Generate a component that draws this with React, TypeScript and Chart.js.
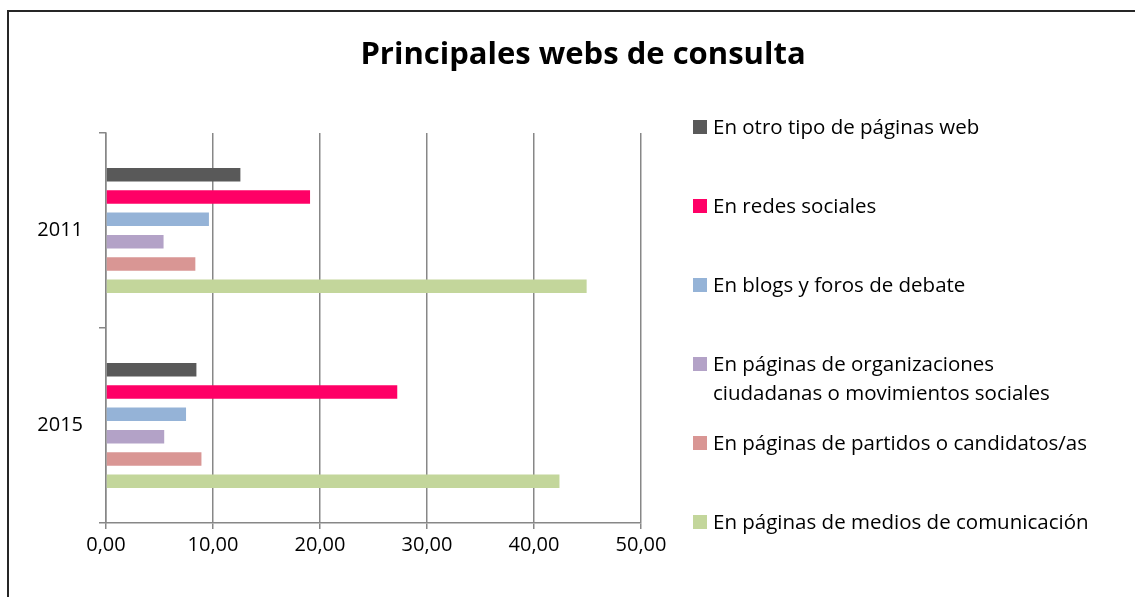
import React, { useEffect, useRef } from "react";
import { Chart, registerables } from "chart.js";

Chart.register(...registerables);

const categories = ["2011", "2015"];
const legendLabels: string[][] = [
  ["En otro tipo de páginas web"],
  ["En redes sociales"],
  ["En blogs y foros de debate"],
  ["En páginas de organizaciones", "ciudadanas o movimientos sociales"],
  ["En páginas de partidos o candidatos/as"],
  ["En páginas de medios de comunicación"],
];
const otroTipo = [12.56, 8.45];
const redesSociales = [19.07, 27.22];
const blogsForos = [9.62, 7.48];
const organizaciones = [5.38, 5.44];
const partidos = [8.35, 8.92];
const medios = [44.92, 42.38];
const seriesColors = ["#595959", "#FF0066", "#95B3D7", "#B3A2C7", "#D99694", "#C3D69B"];
const xMin = 0;
const xMax = 50;
const xStep = 10;
const titleText = "Principales webs de consulta";

const FONT = "'Open Sans', 'DejaVu Sans', sans-serif";

const titleLegendPlugin = {
  id: "titleLegend",
  afterDraw(chart: any) {
    const ctx = chart.ctx;
    ctx.save();
    ctx.fillStyle = "#000";
    ctx.textAlign = "center";
    ctx.textBaseline = "middle";
    ctx.font = `bold 31px ${FONT}`;
    ctx.fillText(titleText, 583, 55);

    ctx.font = `20.5px ${FONT}`;
    ctx.textAlign = "left";
    chart.data.datasets.forEach((ds: any, i: number) => {
      const cy = 127 + i * 79;
      ctx.fillStyle = ds.backgroundColor;
      ctx.fillRect(693, cy - 7, 14, 14);
      ctx.fillStyle = "#000";
      const lines: string[] = ds.legendLines;
      lines.forEach((ln, j) => {
        ctx.fillText(ln, 713, cy + 1 + j * 29);
      });
    });
    ctx.restore();
  },
};

export default function App() {
  const ref = useRef<HTMLCanvasElement | null>(null);
  useEffect(() => {
    if (!ref.current) return;
    const seriesValues = [otroTipo, redesSociales, blogsForos, organizaciones, partidos, medios];
    const chart = new Chart(ref.current, {
      type: "bar",
      data: {
        labels: categories,
        datasets: seriesValues.map((vals, i) => ({
          label: legendLabels[i].join(" "),
          legendLines: legendLabels[i],
          data: vals,
          backgroundColor: seriesColors[i],
          borderWidth: 0,
          categoryPercentage: 0.686,
          barPercentage: 0.605,
        })) as any,
      },
      options: {
        indexAxis: "y",
        animation: false,
        responsive: false,
        layout: { padding: { top: 133, right: 494, left: 0, bottom: 0 } },
        plugins: {
          legend: { display: false },
          title: { display: false },
          tooltip: { enabled: false },
        },
        scales: {
          x: {
            type: "linear",
            min: xMin,
            max: xMax,
            ticks: {
              stepSize: xStep,
              color: "#000",
              font: { family: FONT, size: 20 },
              padding: 4,
              callback: (v: any) => Number(v).toFixed(2).replace(".", ","),
            },
            grid: { color: "#878787", lineWidth: 1.5, tickLength: 6, drawTicks: true },
            border: { display: true, color: "#878787", width: 1.5 },
            afterFit: (s: any) => {
              s.height = 74;
            },
          },
          y: {
            type: "category",
            ticks: {
              color: "#000",
              font: { family: FONT, size: 20 },
              padding: 16,
            },
            grid: {
              offset: true,
              drawOnChartArea: false,
              drawTicks: true,
              tickLength: 7,
              color: "#878787",
              lineWidth: 1.5,
            },
            border: { display: true, color: "#878787", width: 1.5 },
            afterFit: (s: any) => {
              s.width = 106;
            },
          },
        },
      } as any,
      plugins: [titleLegendPlugin],
    });
    return () => chart.destroy();
  }, []);

  return (
    <div style={{ position: "absolute", left: 0, top: 0, width: 1135, height: 597, background: "#fff", overflow: "hidden" }}>
      <div
        style={{
          position: "absolute",
          left: 7,
          top: 10,
          width: 1140,
          height: 600,
          borderTop: "2px solid #262626",
          borderLeft: "2px solid #262626",
        }}
      />
      <canvas ref={ref} width={1135} height={597} style={{ position: "absolute", left: 0, top: 0, display: "block" }} />
    </div>
  );
}
